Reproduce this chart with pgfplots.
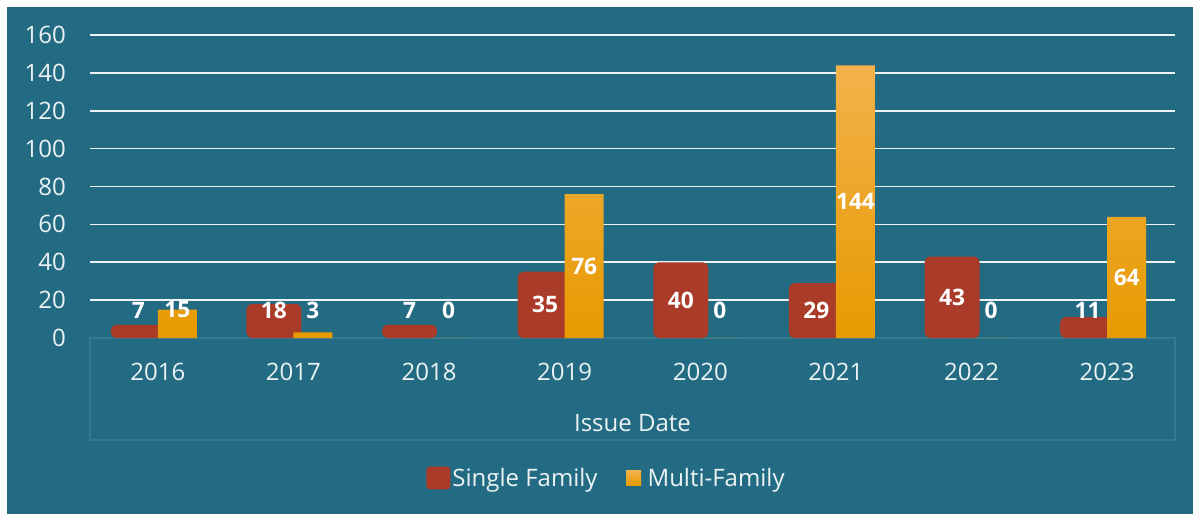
\documentclass[border=0pt]{standalone}
\usepackage{fontspec}
\setmainfont{Open Sans}
\usepackage{pgfplots}
\pgfplotsset{compat=1.18}
\usepackage{pgfplotstable}
\definecolor{panel}{RGB}{34,107,130}
\definecolor{sfred}{RGB}{170,59,41}
\definecolor{mftop}{RGB}{243,178,76}
\definecolor{mfmid}{RGB}{247,168,22}
\definecolor{mfbot}{RGB}{231,154,0}
\definecolor{framec}{RGB}{55,122,142}
\definecolor{tickc}{RGB}{236,242,244}

% values, and the heights at which their labels sit
\pgfplotstableread{
x sf mf sfl mfl
0 7 15 14.8 14.8
1 18 3 14.8 14.8
2 7 0 14.8 14.8
3 35 76 17.5 38
4 40 0 20 14.8
5 29 144 14.8 72
6 43 0 21.5 14.8
7 11 64 14.8 32
}\permits

\begin{document}
\begin{tikzpicture}
\fill[white] (0,0) rectangle (899.25pt,-385.5pt);
\fill[panel] (5.25pt,-5.25pt) rectangle (894.75pt,-385.5pt);
\useasboundingbox (0,0) rectangle (899.25pt,-385.5pt);
\draw[framec, line width=0.8pt] (67.5pt,-253.5pt) rectangle (881.25pt,-330pt);
\begin{axis}[
    at={(67.5pt,-253.5pt)}, anchor=south west,
    scale only axis,
    width=813.75pt, height=227.25pt,
    xmin=-0.5, xmax=7.5,
    ymin=0, ymax=160,
    axis line style={draw=none},
    major tick length=0pt,
    xtick={0,1,2,3,4,5,6,7},
    xticklabels={2016,2017,2018,2019,2020,2021,2022,2023},
    ytick={20,40,...,160},
    extra y ticks={0},
    extra y tick style={grid=none},
    ymajorgrids,
    grid style={white!92!panel, line width=1.3pt},
    /pgf/number format/assume math mode=true,
    tick label style={font=\fontsize{18}{20}\selectfont, text=tickc},
    xticklabel style={anchor=center, yshift=-25.5pt},
    yticklabel style={anchor=east, inner sep=0pt, xshift=-18pt},
    xlabel={Issue Date},
    xlabel style={at={(axis description cs:0.5,0)}, anchor=center,
        yshift=-63.75pt, font=\fontsize{18}{20}\selectfont, text=tickc},
    legend style={at={(axis description cs:0.5,0)}, anchor=center,
        xshift=-19.5pt, yshift=-105pt, draw=none, fill=none, legend columns=2,
        font=\fontsize{18}{20}\selectfont, text=tickc,
        nodes={inner sep=1.5pt},
        /tikz/every even column/.append style={column sep=20pt}},
    ybar,
    nodes near coords style={font=\bfseries\fontsize{17}{20}\selectfont, text=white},
]
\addplot[ybar, bar width=0.405, bar shift=-0.144, fill=sfred, draw=none,
    rounded corners=4pt,
    legend image code/.code={\fill[sfred, rounded corners=2.5pt]
        (0pt,-8.5pt) rectangle (18pt,8.5pt);}]
    table[x=x, y=sf] {\permits};
\addlegendentry{Single Family}
\addplot[ybar, bar width=0.2875, bar shift=0.144, draw=none,
    top color=mftop, middle color=mfmid, bottom color=mfbot,
    legend image code/.code={\fill[top color=mftop, bottom color=mfbot]
        (0pt,-5.6pt) rectangle (11.25pt,5.6pt);
        \path (14.5pt,0pt);}]
    table[x=x, y=mf] {\permits};
\addlegendentry{Multi-Family}
% value labels
\addplot[ybar, bar width=0.405, bar shift=-0.144, draw=none, fill=none,
    forget plot, nodes near coords, point meta=explicit symbolic,
    every node near coord/.append style={anchor=center}]
    table[x=x, y=sfl, meta=sf] {\permits};
\addplot[ybar, bar width=0.2875, bar shift=0.144, draw=none, fill=none,
    forget plot, nodes near coords, point meta=explicit symbolic,
    every node near coord/.append style={anchor=center}]
    table[x=x, y=mfl, meta=mf] {\permits};
\end{axis}
\end{tikzpicture}
\end{document}
